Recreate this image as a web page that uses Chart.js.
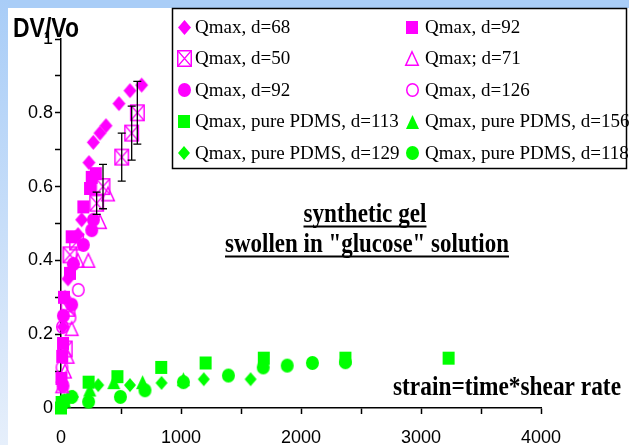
<!DOCTYPE html>
<html><head><meta charset="utf-8">
<script src="https://cdn.jsdelivr.net/npm/chart.js@4"></script>
<style>
html,body{margin:0;padding:0;background:#fff;}
#wrap{position:relative;width:629px;height:445px;overflow:hidden;background:#fff;}
#bgTop{position:absolute;left:0;top:0;width:629px;height:8px;background:#a9cdf7;}
#bgLeft{position:absolute;left:0;top:0;width:8px;height:445px;background:linear-gradient(to bottom,#a9cdf7,#e6effb);}
canvas{position:absolute;left:0;top:0;}
</style></head><body>
<div id="wrap"><div id="bgTop"></div><div id="bgLeft"></div><canvas id="c" width="629" height="445"></canvas></div>
<script>
// ---- data (x = strain, y = DV/Vo) ----
const q68   = [[8,0.07],[17,0.22],[33,0.30],[58,0.35],[103,0.39],[142,0.47],[172,0.51],[233,0.665],[269,0.72],[325,0.745],[375,0.765],[483,0.825],[575,0.86],[672,0.875]];
const q92sq = [[4,0.08],[10,0.14],[17,0.175],[25,0.30],[75,0.365],[89,0.464],[186,0.545],[242,0.595],[256,0.625],[290,0.635]];
const q50   = [[35,0.16],[58,0.27],[75,0.415],[130,0.45],[297,0.555],[350,0.60],[506,0.68],[589,0.745],[636,0.80]];
const q50Err= [0,0,0,0,0.03,0.06,0.065,0.073,0.085];
const q71   = [[10,0.06],[33,0.10],[55,0.14],[89,0.215],[140,0.40],[228,0.40],[325,0.505],[392,0.58]];
const q92c  = [[17,0.06],[20,0.25],[89,0.28],[103,0.39],[186,0.442],[256,0.482],[270,0.51]];
const q126  = [[8,0.11],[12,0.22],[75,0.245],[144,0.32]];
const p113  = [[0,0],[5,0.015],[230,0.07],[470,0.085],[835,0.11],[1205,0.122],[1690,0.135],[2370,0.135],[3230,0.135]];
const p156  = [[30,0.02],[240,0.05],[440,0.07],[680,0.07],[1020,0.078]];
const p129  = [[100,0.03],[310,0.062],[575,0.062],[838,0.068],[1190,0.078],[1580,0.078]];
const p118  = [[30,0.02],[90,0.03],[230,0.017],[495,0.03],[700,0.048],[1020,0.07],[1395,0.088],[1685,0.11],[1885,0.115],[2095,0.122],[2370,0.124]];
const seriesLabels = ['Qmax, d=68','Qmax, d=92','Qmax, d=50','Qmax; d=71','Qmax, d=92','Qmax, d=126',
  'Qmax, pure PDMS, d=113','Qmax, pure PDMS, d=156','Qmax, pure PDMS, d=129','Qmax, pure PDMS, d=118'];
const xLabelValues = [0,1000,2000,3000,4000];
const xLabels = ['0','1000','2000','3000','4000'];
const yLabelValues = [0,0.2,0.4,0.6,0.8,1];
const yLabels = ['0','0.2','0.4','0.6','0.8','1'];

const MAG = '#ff00ff', GRN = '#00ff00';
function marker(shape, color, filled, w, h) {
  const pad = 2;
  const c = document.createElement('canvas');
  c.width = w + pad*2; c.height = h + pad*2;
  const g = c.getContext('2d');
  g.translate(c.width/2, c.height/2);
  const lw = 1.5;
  const ins = filled ? 0 : lw/2;
  const hw = w/2 - ins, hh = h/2 - ins;
  g.beginPath();
  if (shape==='square'||shape==='xsquare') g.rect(-hw,-hh,hw*2,hh*2);
  else if (shape==='diamond') { g.moveTo(0,-hh); g.lineTo(hw,0); g.lineTo(0,hh); g.lineTo(-hw,0); g.closePath(); }
  else if (shape==='triangle') { g.moveTo(0,-hh); g.lineTo(hw,hh); g.lineTo(-hw,hh); g.closePath(); }
  else if (shape==='circle') g.ellipse(0,0,hw,hh,0,0,Math.PI*2);
  if (filled) { g.fillStyle=color; g.fill(); } else { g.strokeStyle=color; g.lineWidth=lw; g.stroke(); }
  if (shape==='xsquare') { g.beginPath(); g.moveTo(-hw,-hh); g.lineTo(hw,hh); g.moveTo(hw,-hh); g.lineTo(-hw,hh); g.strokeStyle=color; g.lineWidth=1.2; g.stroke(); }
  return c;
}
const toXY = a => a.map(p => ({x:p[0], y:p[1]}));
const specs = [
  [q68,  marker('diamond', MAG, true, 13, 15)],
  [q92sq,marker('square',  MAG, true, 12, 13)],
  [q50,  marker('xsquare', MAG, false,15, 17)],
  [q71,  marker('triangle',MAG, false,14, 15)],
  [q92c, marker('circle',  MAG, true, 13, 14)],
  [q126, marker('circle',  MAG, false,13, 14)],
  [p113, marker('square',  GRN, true, 12, 13)],
  [p156, marker('triangle',GRN, true, 13, 14)],
  [p129, marker('diamond', GRN, true, 12, 14)],
  [p118, marker('circle',  GRN, true, 13, 14)]
];
const datasets = specs.map((s,i) => ({
  label: seriesLabels[i], data: toXY(s[0]), pointStyle: s[1],
  pointRadius: 6, pointHoverRadius: 6, showLine: false, clip: false
}));

function stretchText(ctx, text, x, baseline, font, targetW, sy, align) {
  ctx.save();
  ctx.font = font;
  const w = ctx.measureText(text).width;
  const sx = targetW / w;
  ctx.translate(x, baseline);
  ctx.scale(sx, sy);
  ctx.textAlign = align; ctx.textBaseline = 'alphabetic';
  ctx.fillStyle = '#000';
  ctx.fillText(text, 0, 0);
  ctx.restore();
}

const errPlugin = { id:'errbars', afterDatasetsDraw(chart){
  const xs = chart.scales.x, ys = chart.scales.y, ctx = chart.ctx;
  ctx.save(); ctx.strokeStyle='#000'; ctx.lineWidth=1.3;
  q50.forEach((p,i)=>{ const e=q50Err[i]; if(!e) return;
    const px=xs.getPixelForValue(p[0]);
    const y1=ys.getPixelForValue(p[1]+e), y2=ys.getPixelForValue(p[1]-e);
    ctx.beginPath(); ctx.moveTo(px,y1); ctx.lineTo(px,y2);
    ctx.moveTo(px-4,y1); ctx.lineTo(px+4,y1); ctx.moveTo(px-4,y2); ctx.lineTo(px+4,y2); ctx.stroke(); });
  ctx.restore(); } };

const annoPlugin = { id:'anno', afterDraw(chart){
  const ctx = chart.ctx;
  stretchText(ctx, 'DV/Vo', 13, 37, 'bold 24px "Liberation Sans", Arial, sans-serif', 66, 1.18, 'left');
  const serifB = 'bold 23px "Liberation Serif", "Times New Roman", serif';
  stretchText(ctx, 'synthetic gel', 365, 222, serifB, 123, 1.15, 'center');
  stretchText(ctx, 'swollen in "glucose" solution', 367, 252, serifB, 284, 1.15, 'center');
  ctx.save(); ctx.strokeStyle='#000'; ctx.lineWidth=2;
  ctx.beginPath(); ctx.moveTo(365-61.5,226.5); ctx.lineTo(365+61.5,226.5);
  ctx.moveTo(367-142,256.5); ctx.lineTo(367+142,256.5); ctx.stroke(); ctx.restore();
  stretchText(ctx, 'strain=time*shear rate', 393, 395, serifB, 228, 1.15, 'left');
  // legend
  ctx.save();
  ctx.fillStyle='#fff'; ctx.fillRect(172,8,455,161);
  ctx.strokeStyle='#000'; ctx.lineWidth=1.5; ctx.strokeRect(172.5,8.5,454,160);
  ctx.font='19px "Liberation Serif","Times New Roman",serif';
  ctx.textBaseline='middle'; ctx.textAlign='left'; ctx.fillStyle='#000';
  chart.data.datasets.forEach((ds,i)=>{
    const col=i%2, row=Math.floor(i/2);
    const mx = col ? 412 : 184, tx = col ? 425 : 195;
    const y = 27 + row*31.5;
    const img = ds.pointStyle;
    ctx.drawImage(img, Math.round(mx - img.width/2), Math.round(y - img.height/2));
    ctx.fillText(ds.label, tx, y+1);
  });
  ctx.restore();
} };

function pick(values, labels){ return v => { const i = values.findIndex(t => Math.abs(t - v) < 1e-6); return i >= 0 ? labels[i] : ''; }; }

Chart.defaults.font.family = '"Liberation Sans", Arial, sans-serif';
Chart.defaults.color = '#000';
new Chart(document.getElementById('c'), {
  type: 'scatter',
  data: { datasets },
  options: {
    responsive: false, animation: false, events: [],
    layout: { padding: { left: 0, top: 39, right: 88, bottom: 0 } },
    plugins: { legend: { display: false }, tooltip: { enabled: false } },
    scales: {
      x: { type:'linear', min:0, max:4000,
        afterFit(s){ s.height = 37; },
        ticks: { stepSize:500, autoSkip:false, maxRotation:0, padding:13, font:{size:18}, callback: pick(xLabelValues, xLabels) },
        grid: { drawOnChartArea:false, drawTicks:true, tickLength:6, tickColor:'#000', tickWidth:1.5 },
        border: { display:true, color:'#000', width:1.5 } },
      y: { type:'linear', min:0, max:1,
        afterFit(s){ s.width = 61; },
        ticks: { stepSize:0.1, autoSkip:false, padding:2, font:{size:18}, callback: pick(yLabelValues, yLabels) },
        grid: { drawOnChartArea:false, drawTicks:true, tickLength:6, tickColor:'#000', tickWidth:1.5 },
        border: { display:true, color:'#000', width:1.5 } }
    }
  },
  plugins: [errPlugin, annoPlugin]
});
</script>
</body></html>
